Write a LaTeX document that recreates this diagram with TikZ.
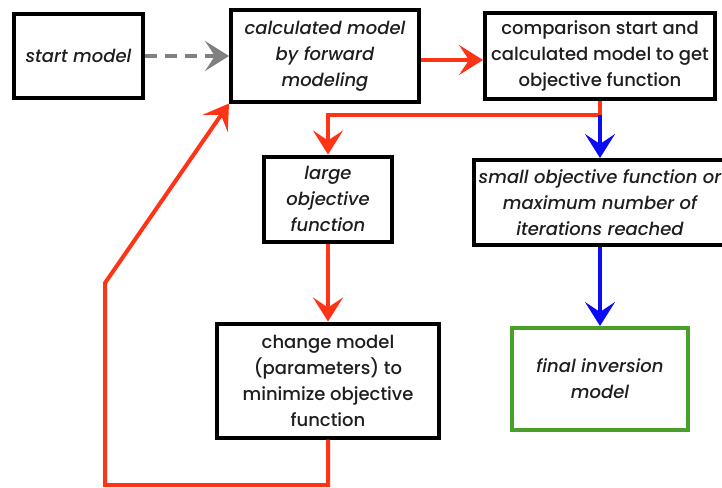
\documentclass[tikz,border=0pt]{standalone}
\usepackage{fontspec}
\setmainfont{Poppins}[UprightFont=* Medium, ItalicFont=* Medium Italic]
\usepackage{tikz}
\usetikzlibrary{arrows.meta,positioning,calc}
\definecolor{flred}{HTML}{FF3316}
\definecolor{flblue}{HTML}{0C0CF2}
\definecolor{flgreen}{HTML}{4A9E2A}
\definecolor{flgray}{HTML}{808080}
\definecolor{fltext}{HTML}{1E1E1E}

\begin{document}
\begin{tikzpicture}[
  x=1pt, y=1pt,
  font=\fontsize{18}{26}\selectfont,
  box/.style={draw=black, line width=4pt, align=center, inner sep=2pt, text=fltext},
  done/.style={box, draw=flgreen},
  arr/.style={-{Stealth[length=24pt, width=30pt, inset=10pt]}, line width=4pt, flred},
  barr/.style={arr, flblue},
  garr/.style={arr, flgray, dash pattern=on 12pt off 8pt}
]
\useasboundingbox (0,0) rectangle (722,-487);
\clip (0,0) rectangle (722,-487);
\node[box, minimum width=129pt, minimum height=84pt] (start) at (78.5,-56) {\itshape start model};
\node[box, minimum width=188pt, minimum height=91pt, right=84pt of start] (calc) {\itshape calculated model\\\itshape by forward\\\itshape modeling};
\node[box, minimum width=230pt, minimum height=86pt, right=62pt of calc] (comp) {comparison start and\\calculated model to get\\objective function};
\node[box, minimum width=128pt, minimum height=85pt, below=51pt of calc, xshift=3pt] (large) {\itshape large\\\itshape objective\\\itshape function};
\node[box, minimum width=252pt, minimum height=85pt, below=57pt of comp] (small) {\itshape small objective function or\\\itshape maximum number of\\\itshape iterations reached};
\node[box, minimum width=222pt, minimum height=114pt, below=78pt of large] (change) {change model\\(parameters) to\\minimize objective\\function};
\node[done, minimum width=176pt, minimum height=102pt, below=79pt of small] (final) {\itshape final inversion\\\itshape model};
\coordinate (split) at ($(comp.south)+(0,-14)$);
\coordinate (lb) at (105,-485);
\coordinate (lt) at (105,-283);
\draw[garr] (start) -- (calc);
\draw[arr] (calc.east|-comp.west) ++(0,-4) -- ($(comp.west)+(0,-4)$);
\draw[arr] (comp.south) -- (split) -| (large.north);
\draw[barr] (split) -- (small.north);
\draw[arr] (large) -- (change);
\draw[barr] (small) -- (final);
\draw[arr] (change.south) |- (lb) -- (lt) -- (calc.south west);
\end{tikzpicture}
\end{document}
